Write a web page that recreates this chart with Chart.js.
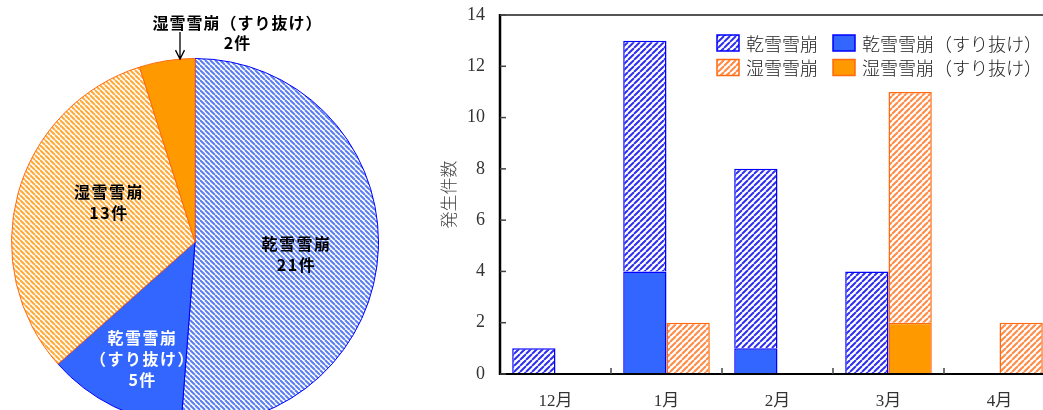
<!DOCTYPE html>
<html lang="ja">
<head>
<meta charset="utf-8">
<title>雪崩の発生件数</title>
<script src="https://cdn.jsdelivr.net/npm/chart.js@4.4.1/dist/chart.umd.min.js"></script>
<style>
  html, body { margin: 0; padding: 0; background: #fff; }
  body { width: 1043px; height: 410px; overflow: hidden; position: relative; }
  canvas { position: absolute; }
  #pie { left: 0; top: 0; }
  #bar { left: 400px; top: 0; }
</style>
</head>
<body>
<canvas id="pie" width="400" height="440"></canvas>
<canvas id="bar" width="660" height="410"></canvas>
<script>
// Monthly avalanche counts
const months    = ['12月', '1月', '2月', '3月', '4月'];
const dryOther  = [1, 9, 7, 4, 0];   // 乾雪雪崩
const drySlide  = [0, 4, 1, 0, 0];   // 乾雪雪崩（すり抜け）
const wetOther  = [0, 2, 0, 9, 2];   // 湿雪雪崩
const wetSlide  = [0, 0, 0, 2, 0];   // 湿雪雪崩（すり抜け）
const yTicks    = [0, 2, 4, 6, 8, 10, 12, 14];
const seriesNames = ['乾雪雪崩', '乾雪雪崩（すり抜け）', '湿雪雪崩', '湿雪雪崩（すり抜け）'];
const yTitle = '発生件数';
const unit = '件';

// Season totals for the pie, in drawing order (clockwise from the top)
const sum = a => a.reduce((s, v) => s + v, 0);
const pieValues = [sum(dryOther), sum(drySlide), sum(wetOther), sum(wetSlide)];
const pieLabelLines = [['乾雪雪崩'], ['乾雪雪崩', '（すり抜け）'], ['湿雪雪崩'], ['湿雪雪崩（すり抜け）']];

const BLUE = '#0000ff', BLUE_FILL = '#3366ff';
const ORANGE = '#ff6a10', ORANGE_FILL = '#ff9900';

function hatch(ctx, color, period, width, dir) {
  const c = document.createElement('canvas');
  c.width = c.height = period;
  const g = c.getContext('2d');
  g.fillStyle = '#fff';
  g.fillRect(0, 0, period, period);
  g.strokeStyle = color;
  g.lineWidth = width;
  g.beginPath();
  for (let k = -1; k <= 1; k++) {
    if (dir === '/') { g.moveTo(k * period, period); g.lineTo(k * period + period, 0); }
    else { g.moveTo(k * period, 0); g.lineTo(k * period + period, period); }
  }
  g.stroke();
  return ctx.createPattern(c, 'repeat');
}

/* ---------- pie ---------- */
const pieCanvas = document.getElementById('pie');
const pctx = pieCanvas.getContext('2d');
const pieFills = [
  hatch(pctx, '#5a7ef2', 5, 2, '\\'),
  BLUE_FILL,
  hatch(pctx, '#ffaa38', 5, 2, '\\'),
  ORANGE_FILL
];
const pieBorders = [BLUE, BLUE, ORANGE, ORANGE];

// where each slice's caption sits: fraction of the radius and a small turn (degrees)
const pieLabelPlace = [
  { frac: 0.553, turn: 4.6, color: '#000' },
  { frac: 0.70, turn: -1.9, color: '#fff' },
  { frac: 0.52, turn: 9.3, color: '#000' },
  { outside: true, dx: 42, dy: -219, arrowDx: -15, color: '#000' }
];

function spacedText(ctx, text, x, y, spacing) {
  ctx.letterSpacing = spacing + 'px';
  const w = ctx.measureText(text).width - spacing;
  ctx.textAlign = 'left';
  ctx.fillText(text, x - w / 2, y);
}

const pieCaptions = {
  id: 'pieCaptions',
  afterDatasetsDraw(chart) {
    const ctx = chart.ctx;
    const arcs = chart.getDatasetMeta(0).data;
    ctx.save();
    ctx.font = 'bold 16px "Noto Sans CJK JP", sans-serif';
    ctx.textBaseline = 'middle';
    arcs.forEach((arc, i) => {
      const p = pieLabelPlace[i];
      const lines = pieLabelLines[i].concat([pieValues[i] + unit]);
      const cx = arc.x, cy = arc.y, R = arc.outerRadius;
      ctx.fillStyle = p.color;
      const lh = 21;
      if (p.outside) {
        lines.forEach((t, k) => spacedText(ctx, t, cx + p.dx, cy + p.dy + k * 20, 1));
        const ax = cx + p.arrowDx;
        const tipY = cy - Math.sqrt(R * R - p.arrowDx * p.arrowDx);
        const topY = cy + p.dy + 9;
        ctx.strokeStyle = '#000';
        ctx.lineWidth = 1.3;
        ctx.beginPath();
        ctx.moveTo(ax, topY); ctx.lineTo(ax, tipY);
        ctx.moveTo(ax - 4.5, tipY - 9); ctx.lineTo(ax, tipY); ctx.lineTo(ax + 4.5, tipY - 9);
        ctx.stroke();
      } else {
        const mid = (arc.startAngle + arc.endAngle) / 2 + p.turn * Math.PI / 180;
        const x = cx + Math.cos(mid) * R * p.frac;
        const y = cy + Math.sin(mid) * R * p.frac;
        const y0 = y - (lines.length - 1) * lh / 2;
        lines.forEach((t, k) => spacedText(ctx, t, x, y0 + k * lh, 1.5));
      }
    });
    ctx.restore();
  }
};

new Chart(pctx, {
  type: 'pie',
  data: {
    labels: seriesNames,
    datasets: [{
      data: pieValues,
      backgroundColor: pieFills,
      borderColor: pieBorders,
      borderWidth: 1
    }]
  },
  options: {
    responsive: false,
    animation: false,
    layout: { padding: { left: 11, top: 58, right: 21, bottom: 14 } },
    plugins: { legend: { display: false }, tooltip: { enabled: false } }
  },
  plugins: [pieCaptions]
});

/* ---------- bars ---------- */
const barCanvas = document.getElementById('bar');
const bctx = barCanvas.getContext('2d');
const dryHatch = hatch(bctx, '#2f2ff0', 6, 2, '/');
const wetHatch = hatch(bctx, '#ff8a45', 6, 2, '/');

const bw = c => (c.raw ? 1.5 : 0);
const datasets = [
  { label: seriesNames[1], data: drySlide, stack: 'dry', backgroundColor: BLUE_FILL, borderColor: BLUE, borderWidth: bw },
  { label: seriesNames[0], data: dryOther, stack: 'dry', backgroundColor: dryHatch, borderColor: BLUE, borderWidth: bw },
  { label: seriesNames[3], data: wetSlide, stack: 'wet', backgroundColor: ORANGE_FILL, borderColor: ORANGE, borderWidth: bw },
  { label: seriesNames[2], data: wetOther, stack: 'wet', backgroundColor: wetHatch, borderColor: ORANGE, borderWidth: bw }
];

// legend grid: row by row, left to right (dataset indices)
const legendOrder = [1, 0, 3, 2];
const legendBox = { dx: 217, dy: 20, colW: 116, rowH: 24.5, w: 22, h: 16, gap: 7 };

const boxLegend = {
  id: 'boxLegend',
  afterDraw(chart) {
    const { ctx, chartArea: a } = chart;
    ctx.save();
    ctx.font = '300 18px "Noto Sans CJK JP", sans-serif';
    ctx.textBaseline = 'middle';
    ctx.textAlign = 'left';
    legendOrder.forEach((di, k) => {
      const ds = chart.data.datasets[di];
      const x = a.left + legendBox.dx + (k % 2) * legendBox.colW;
      const y = a.top + legendBox.dy + Math.floor(k / 2) * legendBox.rowH;
      ctx.fillStyle = ds.backgroundColor;
      ctx.fillRect(x, y, legendBox.w, legendBox.h);
      ctx.strokeStyle = ds.borderColor;
      ctx.lineWidth = 1.5;
      ctx.strokeRect(x, y, legendBox.w, legendBox.h);
      ctx.fillStyle = '#222';
      ctx.fillText(ds.label, x + legendBox.w + legendBox.gap, y + legendBox.h / 2 + 1);
    });
    ctx.restore();
  }
};

const frame = {
  id: 'frame',
  afterDatasetsDraw(chart) {
    const { ctx, chartArea: a, scales: { x, y } } = chart;
    const seg = (x1, y1, x2, y2) => { ctx.beginPath(); ctx.moveTo(x1, y1); ctx.lineTo(x2, y2); ctx.stroke(); };
    ctx.save();
    ctx.strokeStyle = '#555';
    ctx.lineWidth = 2;
    seg(a.left, a.top, a.right, a.top);
    ctx.strokeStyle = '#000';
    seg(a.left, a.bottom, a.right, a.bottom);
    ctx.lineWidth = 2.5;
    seg(a.left, a.top - 1, a.left, a.bottom + 1);
    ctx.strokeStyle = '#444';
    ctx.lineWidth = 1.5;
    y.ticks.forEach(t => {
      const py = y.getPixelForValue(t.value);
      seg(a.left, py, a.left + 6, py);
    });
    for (let i = 1; i < months.length; i++) {
      const px = (x.getPixelForValue(i - 1) + x.getPixelForValue(i)) / 2;
      seg(px, a.bottom, px, a.bottom - 6);
    }
    ctx.restore();
  }
};

new Chart(bctx, {
  type: 'bar',
  data: { labels: months, datasets },
  options: {
    responsive: false,
    animation: false,
    categoryPercentage: 0.78,
    barPercentage: 1.0,
    layout: { padding: { left: 34, top: 15, right: 5, bottom: 0 } },
    scales: {
      x: {
        stacked: true,
        grid: { display: false, drawTicks: false },
        border: { display: false },
        ticks: { color: '#333', padding: 17, font: { family: '"Liberation Serif", "Noto Sans CJK JP", serif', size: 17 } },
        afterFit: s => { s.height = 36; s.paddingLeft = 0; s.paddingRight = 0; }
      },
      y: {
        stacked: true,
        min: yTicks[0],
        max: yTicks[yTicks.length - 1],
        afterBuildTicks: s => { s.ticks = yTicks.map(v => ({ value: v })); },
        grid: { display: false, drawTicks: false },
        border: { display: false },
        ticks: { color: '#333', padding: 15, font: { family: '"Liberation Serif", serif', size: 18 } },
        title: {
          display: true,
          text: yTitle,
          color: '#444',
          padding: { top: 4, bottom: 0 },
          font: { family: '"Noto Sans CJK JP", sans-serif', size: 17, weight: '300' }
        },
        afterFit: s => { s.width = 66; s.paddingTop = 0; s.paddingBottom = 0; }
      }
    },
    plugins: { legend: { display: false }, tooltip: { enabled: false } }
  },
  plugins: [frame, boxLegend]
});
</script>
</body>
</html>
